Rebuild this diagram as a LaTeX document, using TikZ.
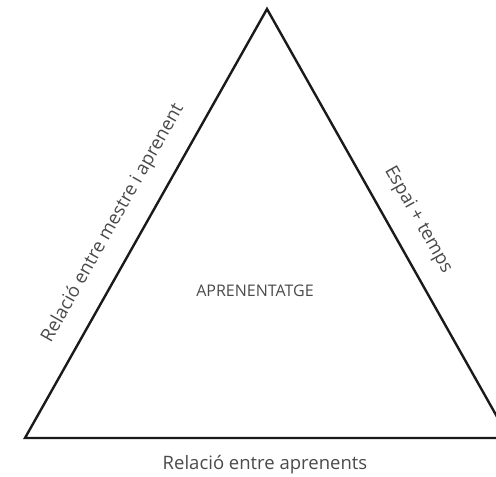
\documentclass[tikz,border=0pt]{standalone}
\usepackage{fontspec}
\setmainfont{Open Sans}
\definecolor{txt}{HTML}{4A4A4A}
\definecolor{edge}{HTML}{1A1A1A}
\tikzset{
  side/.style={draw=edge, line width=2.4pt, line join=miter},
  lbl/.style={text=txt, font=\fontsize{18.5}{22}\selectfont, inner sep=0pt, anchor=center},
  mid/.style={text=txt, font=\fontsize{16}{19}\selectfont, inner sep=0pt, anchor=center}
}
\begin{document}
\begin{tikzpicture}[x=1pt,y=1pt]
\useasboundingbox (0,0) rectangle (496,477);
\begin{scope}
\clip (0,0) rectangle (496,477);
\coordinate (A) at (267,468);
\coordinate (L) at (25,39);
\coordinate (R) at (509,39);
\draw[side] (L) -- (A) -- (R) -- cycle;
\end{scope}
\node[mid] (center) at (255,186) {APRENENTATGE};
\node[lbl, rotate=60.6] (left) at (113,254) {Relació entre mestre i aprenent};
\node[lbl, rotate=-60.6] (right) at (418,257) {Espai + temps};
\node[lbl] (bottom) at (265,12) {Relació entre aprenents};
\end{tikzpicture}
\end{document}
